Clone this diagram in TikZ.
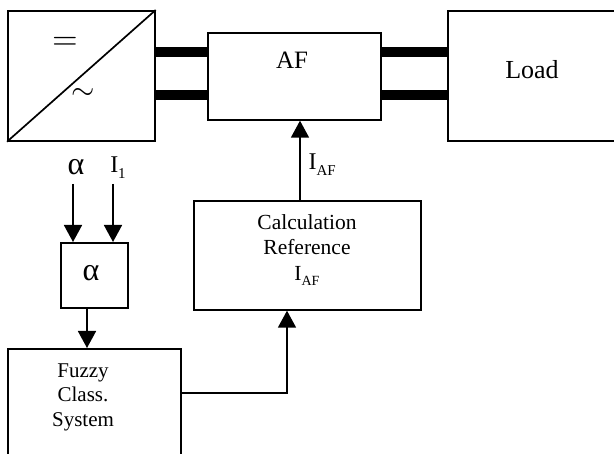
\documentclass[tikz,border=0pt]{standalone}
\usepackage{fontspec}
\usepackage{graphicx}
\setmainfont{Liberation Serif}
\usetikzlibrary{arrows.meta}
\newcommand{\mysub}[2]{#1\raisebox{-0.25em}{\fontsize{#2}{#2}\selectfont AF}}
\begin{document}
\begin{tikzpicture}[x=1pt,y=-1pt,
 box/.style={draw,line width=1.7pt,inner sep=0pt,anchor=north west},
 arr/.style={line width=1.7pt,-{Triangle[width=18pt,length=17pt]}},
 bus/.style={line width=10pt},
 lbl/.style={font=\fontsize{20}{22}\selectfont,inner sep=0pt}]
\clip (0,0) rectangle (614,454);
\node[box,minimum width=147pt,minimum height=130pt] (conv) at (7,10) {};
\node[box,minimum width=173pt,minimum height=87pt] (af) at (207,32) {};
\node[box,minimum width=200pt,minimum height=130pt] (load) at (447,10) {};
\node[box,minimum width=227pt,minimum height=109pt] (calc) at (193,200) {};
\node[box,minimum width=67pt,minimum height=65pt] (alpha) at (60,242) {};
\node[box,minimum width=173pt,minimum height=130pt] (fuzzy) at (7,348) {};
\draw[line width=1.7pt] (conv.south west) -- (conv.north east);
\node (eq) at (65,43) {\scalebox{3.3}{$=$}};
\node (til) at (83,94) {\scalebox{3.0}{$\sim$}};
\node[font=\fontsize{25}{25}\selectfont] (aft) at (292,60) {AF};
\node[font=\fontsize{26}{26}\selectfont] (loadt) at (532,70) {Load};
\node[font=\fontsize{21.5}{25.5}\selectfont,align=center] (calct) at (307,250) {Calculation\\Reference\\\mysub{I}{14}};
\node[font=\fontsize{21}{24.5}\selectfont,align=center] (fuzt) at (83,397) {Fuzzy\\Class.\\System};
\node[font=\fontsize{32}{32}\selectfont] (alt) at (91,273) {α};
% buses
\draw[bus] ([yshift=-42pt]conv.north east) -- ([yshift=-20pt]af.north west);
\draw[bus] ([yshift=-85pt]conv.north east) -- ([yshift=-63pt]af.north west);
\draw[bus] ([yshift=-20pt]af.north east) -- ([yshift=-42pt]load.north west);
\draw[bus] ([yshift=-63pt]af.north east) -- ([yshift=-85pt]load.north west);
% arrows
\coordinate (xa) at (300,0);
\draw[arr] (calc.north -| xa) -- (af.south -| xa);
\node[font=\fontsize{24}{24}\selectfont,anchor=west] (iaf) at (305,165) {\mysub{I}{15}};
\coordinate (xb) at (287,393);
\draw[arr] (fuzzy.east |- xb) -| (calc.south -| xb);
\coordinate (ia) at (73,184);
\coordinate (ib) at (113,184);
\node[font=\fontsize{32}{32}\selectfont] (la) at (76,167) {α};
\node[font=\fontsize{24}{24}\selectfont] (li) at (118,168) {I\raisebox{-0.25em}{\fontsize{15}{15}\selectfont 1}};
\draw[arr] (ia) -- (alpha.north -| ia);
\draw[arr] (ib) -- (alpha.north -| ib);
\coordinate (xc) at (87,0);
\draw[arr] (alpha.south -| xc) -- (fuzzy.north -| xc);
\end{tikzpicture}
\end{document}
